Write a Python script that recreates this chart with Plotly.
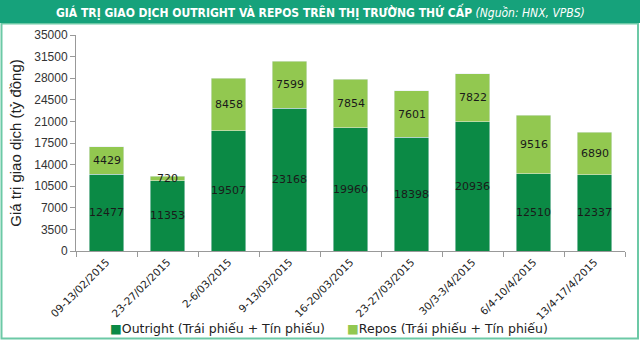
import plotly.graph_objects as go

weeks = ["09-13/02/2015", "23-27/02/2015", "2-6/03/2015", "9-13/03/2015",
         "16-20/03/2015", "23-27/03/2015", "30/3-3/4/2015", "6/4-10/4/2015",
         "13/4-17/4/2015"]
outright = [12477, 11353, 19507, 23168, 19960, 18398, 20936, 12510, 12337]
repos = [4429, 720, 8458, 7599, 7854, 7601, 7822, 9516, 6890]
y_ticks = list(range(0, 35001, 3500))

OUT_COLOR = "#0b8a45"
REP_COLOR = "#92c850"

W, H = 640, 341
ml, mr, mt, mb = 76, 15, 35, 90
pw, ph = W - ml - mr, H - mt - mb

def px_x(x):
    return (x - ml) / pw

def px_y(y):
    return (H - mb - y) / ph

fig = go.Figure()
fig.add_trace(go.Bar(x=weeks, y=outright, name="Outright (Trái phiếu + Tín phiếu)",
                     marker_color=OUT_COLOR))
fig.add_trace(go.Bar(x=weeks, y=repos, name="Repos (Trái phiếu + Tín phiếu)",
                     marker_color=REP_COLOR))

label_font = dict(family="DejaVu Sans", size=11, color="#1a1a1a")
annotations = []
# value labels centred in each stacked segment
for w, o, r in zip(weeks, outright, repos):
    annotations.append(dict(x=w, y=o / 2, text=str(o), showarrow=False,
                            xanchor="center", yanchor="middle", font=label_font))
    annotations.append(dict(x=w, y=o + r / 2, text=str(r), showarrow=False,
                            xanchor="center", yanchor="middle", font=label_font))

annotations.append(dict(
    xref="paper", yref="paper", x=px_x(320), y=px_y(11.5),
    xanchor="center", yanchor="middle", showarrow=False,
    text="<b>GIÁ TRỊ GIAO DỊCH OUTRIGHT VÀ REPOS TRÊN THỊ TRƯỜNG THỨ CẤP</b> <i>(Nguồn: HNX, VPBS)</i>",
    font=dict(family="DejaVu Sans Condensed, Liberation Sans Narrow, Liberation Sans",
              size=12, color="white")))

legend_font = dict(family="DejaVu Sans", size=12.5, color="#222")
legend_items = [
    (108, OUT_COLOR, "Outright (Trái phiếu + Tín phiếu)"),
    (345, REP_COLOR, "Repos (Trái phiếu + Tín phiếu)"),
]
for x0, col, label in legend_items:
    annotations.append(dict(
        xref="paper", yref="paper", x=px_x(x0), y=px_y(328),
        xanchor="left", yanchor="middle", showarrow=False,
        text=f"<span style='color:{col}'>■</span>{label}", font=legend_font))

fig.update_layout(
    width=W, height=H, barmode="stack", bargap=0.44,
    margin=dict(l=ml, r=mr, t=mt, b=mb, autoexpand=False),
    paper_bgcolor="white", plot_bgcolor="white",
    showlegend=False,
    xaxis=dict(tickangle=-45, showline=True, linecolor="#999", ticks="outside",
               tickson="boundaries", ticklen=5, tickcolor="#999", automargin=False,
               tickfont=dict(family="DejaVu Sans", size=10.5, color="#222")),
    yaxis=dict(range=[0, 35000], tickvals=y_ticks, ticktext=[str(v) for v in y_ticks],
               showgrid=False, automargin=False,
               showline=True, linecolor="#999", ticks="outside", ticklen=5,
               tickcolor="#999", zeroline=False,
               tickfont=dict(family="Liberation Sans", size=12, color="#333"),
               title=dict(text="Giá trị giao dịch (tỷ đồng)", standoff=8,
                          font=dict(family="Liberation Sans", size=15, color="#222"))),
    shapes=[
        dict(type="rect", xref="paper", yref="paper",
             x0=px_x(1.5), x1=px_x(638), y0=px_y(338.5), y1=px_y(23.5),
             line=dict(color="#6cc9a6", width=2), fillcolor="rgba(0,0,0,0)", layer="below"),
        dict(type="rect", xref="paper", yref="paper",
             x0=px_x(0), x1=px_x(640), y0=px_y(23), y1=px_y(0),
             line=dict(width=0), fillcolor="#16a27b", layer="below"),
    ],
    annotations=annotations,
)

fig.write_html("out.html")
